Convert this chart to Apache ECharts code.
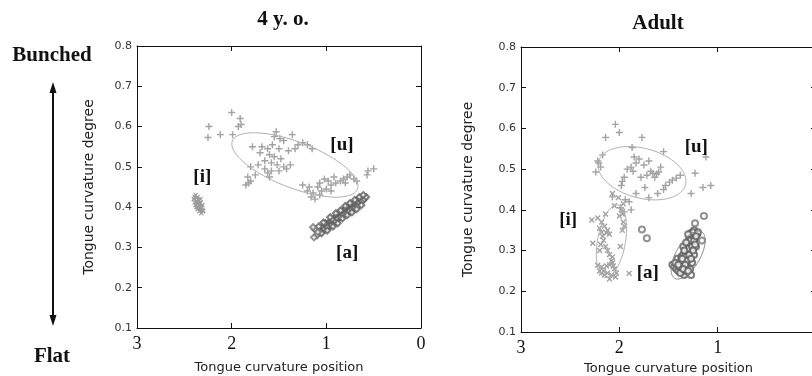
<!DOCTYPE html>
<html>
<head>
<meta charset="utf-8">
<script src="https://cdn.jsdelivr.net/npm/echarts@6/dist/echarts.min.js"></script>
<style>
  html, body { margin: 0; padding: 0; background: #fff; }
  #chart { width: 812px; height: 376px; }
</style>
</head>
<body>
<div id="chart"></div>
<script>
// axis ranges (x runs backwards: 3 on the left, 0 on the right)
const xMin = 0, xMax = 3, xStep = 1;
const yMin = 0.1, yMax = 0.8, yStep = 0.1;
const panelTitles = ['4 y. o.', 'Adult'];
const xName = 'Tongue curvature position';
const yName = 'Tongue curvature degree';

// ---- 4 y. o. ----
const uChild = [
  [2.00,0.635],[1.91,0.62],[1.93,0.60],[1.90,0.605],[2.24,0.60],[2.25,0.573],[2.12,0.58],[1.99,0.58],
  [1.53,0.587],[1.36,0.58],[1.49,0.57],[1.55,0.575],[1.45,0.565],[1.25,0.56],[1.30,0.555],[1.20,0.555],[1.15,0.545],
  [1.78,0.55],[1.68,0.55],[1.62,0.545],[1.57,0.555],[1.50,0.545],[1.40,0.54],[1.33,0.545],[1.60,0.53],[1.70,0.535],
  [1.55,0.525],[1.48,0.52],[1.65,0.515],[1.58,0.51],[1.52,0.505],[1.45,0.50],[1.38,0.505],[1.72,0.505],[1.80,0.50],
  [1.65,0.495],[1.58,0.49],[1.50,0.49],[1.62,0.485],[1.75,0.48],[1.42,0.495],[1.83,0.475],[1.80,0.465],[1.85,0.455],
  [1.82,0.46],[1.60,0.475],[1.25,0.455],[1.18,0.45],[1.07,0.46],[1.02,0.47],[0.98,0.465],[0.95,0.455],[0.92,0.475],
  [0.90,0.46],[0.85,0.465],[0.82,0.47],[0.78,0.475],[0.75,0.48],[0.71,0.47],[0.68,0.465],[0.80,0.46],
  [0.56,0.49],[0.50,0.495],[0.57,0.48],[1.16,0.425],[1.12,0.42],[1.07,0.43],[1.09,0.45],[1.05,0.44],
  [1.14,0.435],[1.20,0.44],[0.95,0.44],[1.00,0.445]
];
const iChild = [
  [2.38,0.43],[2.36,0.425],[2.40,0.42],[2.35,0.418],[2.37,0.415],[2.33,0.41],[2.39,0.412],[2.36,0.408],
  [2.34,0.405],[2.37,0.40],[2.35,0.398],[2.32,0.40],[2.33,0.395],[2.31,0.392],[2.34,0.39],[2.36,0.395],
  [2.38,0.405],[2.32,0.385],[2.30,0.39],[2.35,0.41],[2.39,0.425],[2.33,0.42],[2.31,0.405]
];
const aChild = [
  [1.10,0.33],[1.12,0.345],[1.06,0.34],[1.04,0.35],[1.02,0.345],[1.00,0.355],[0.98,0.36],[0.97,0.352],
  [0.95,0.365],[0.93,0.36],[0.92,0.37],[0.90,0.375],[0.89,0.368],[0.87,0.378],[0.86,0.385],[0.84,0.38],
  [0.83,0.39],[0.81,0.385],[0.80,0.395],[0.78,0.39],[0.77,0.40],[0.75,0.395],[0.74,0.405],[0.72,0.40],
  [0.71,0.41],[0.69,0.405],[0.68,0.415],[0.66,0.41],[0.64,0.418],[0.62,0.415],[0.60,0.42],[0.58,0.425],
  [0.95,0.355],[0.91,0.365],[0.88,0.372],[0.85,0.375],[0.82,0.382],[0.79,0.385],[0.76,0.39],[0.73,0.395],
  [0.70,0.398],[0.67,0.402],[1.01,0.36],[0.94,0.37],[0.99,0.35],
  [1.03,0.362],[0.96,0.375],[0.90,0.385],[0.85,0.392],[0.80,0.403],[0.75,0.41],[0.70,0.418],[0.65,0.425],
  [1.05,0.335],[0.99,0.342],[0.93,0.352],[0.88,0.36],[0.83,0.372],[0.78,0.38],[0.73,0.387],[0.68,0.395],[0.63,0.405],
  [1.08,0.352],[0.61,0.43]
];
const aChildOpen = [[1.13,0.325],[1.14,0.35],[1.09,0.338]];
// ellipse: centre x, centre y, major half-axis (dx, dy), minor half-axis (dx, dy)
const uChildEllipse = [1.332, 0.5047, -0.6607, -0.0596, 0.0871, -0.0533];

// ---- Adult ----
const uAdult = [
  [2.04,0.61],[2.00,0.59],[2.14,0.578],[1.77,0.578],[1.87,0.553],[1.55,0.543],[2.17,0.535],[2.21,0.515],
  [2.24,0.493],[2.19,0.505],[2.22,0.52],[1.85,0.53],[1.80,0.525],[1.83,0.515],[1.88,0.505],[1.92,0.50],
  [1.86,0.495],[1.70,0.52],[1.75,0.51],[1.66,0.49],[1.72,0.485],[1.62,0.488],[1.64,0.48],[1.68,0.495],
  [1.58,0.505],[1.60,0.493],[1.78,0.48],[1.95,0.48],[1.97,0.47],[1.46,0.473],[1.49,0.468],[1.42,0.478],
  [1.53,0.46],[1.38,0.485],[1.23,0.49],[1.12,0.53],[1.07,0.46],[1.15,0.455],[1.27,0.44],[1.61,0.44],
  [1.55,0.45],[1.83,0.44],[1.98,0.46],[2.07,0.432],[1.94,0.425],[1.90,0.42],[1.95,0.395],[1.99,0.405],
  [1.88,0.40],[1.74,0.455],[1.70,0.43]
];
const iAdult = [
  [2.28,0.375],[2.22,0.38],[2.18,0.37],[2.15,0.36],[2.20,0.355],[2.13,0.343],[2.17,0.335],[2.12,0.35],
  [2.10,0.34],[2.18,0.345],[2.27,0.318],[2.19,0.315],[2.14,0.31],[2.12,0.30],[2.16,0.325],[2.10,0.29],
  [2.07,0.284],[2.08,0.275],[2.22,0.264],[2.18,0.26],[2.16,0.25],[2.13,0.262],[2.10,0.265],[2.06,0.262],
  [2.03,0.245],[2.05,0.255],[2.08,0.24],[2.15,0.24],[2.10,0.23],[2.12,0.245],[2.18,0.245],[2.20,0.25],
  [2.04,0.235],[2.07,0.27],[1.90,0.244],[1.97,0.39],[1.96,0.37],[1.95,0.36],[1.98,0.40],[1.99,0.31],
  [2.00,0.385],[1.97,0.35],[2.07,0.44],[2.01,0.43],[1.96,0.415],[2.05,0.41],[2.20,0.30],[2.14,0.39]
];
const aAdult = [
  [1.46,0.265],[1.44,0.26],[1.42,0.255],[1.40,0.25],[1.38,0.27],[1.41,0.28],[1.37,0.285],[1.35,0.29],
  [1.33,0.30],[1.32,0.31],[1.30,0.32],[1.29,0.33],[1.27,0.343],[1.24,0.35],[1.26,0.335],[1.28,0.315],
  [1.31,0.295],[1.34,0.275],[1.36,0.265],[1.39,0.26],[1.34,0.24],[1.36,0.25],[1.31,0.26],[1.29,0.28],
  [1.27,0.30],[1.25,0.32],[1.23,0.33],[1.21,0.34],[1.25,0.345],[1.30,0.305],[1.33,0.285],[1.37,0.275],
  [1.43,0.27],[1.28,0.255],[1.32,0.25],[1.26,0.27],[1.24,0.29],[1.22,0.31],[1.20,0.345],[1.27,0.24],
  [1.38,0.245],[1.30,0.34],[1.35,0.31],
  [1.29,0.29],[1.31,0.275],[1.33,0.265],[1.28,0.325],[1.26,0.31],[1.24,0.325],[1.22,0.335],[1.27,0.28],
  [1.35,0.255],[1.30,0.25],[1.25,0.30],[1.23,0.315],[1.32,0.32],[1.34,0.30],[1.36,0.28],[1.40,0.265]
];
const aAdultOpen = [[1.77,0.352],[1.72,0.33],[1.23,0.367],[1.14,0.385],[1.16,0.325]];
const uAdultEllipse = [1.77, 0.490, -0.4425, -0.0285, 0.066, -0.059];
const iAdultEllipse = [2.08, 0.323, -0.065, 0.089, -0.140, -0.006];
const aAdultEllipse = [1.30, 0.289, -0.137, 0.057, -0.106, -0.015];

// vowel tags: x, y, text
const tagsChild = [[2.31, 0.475, '[i]'], [0.835, 0.554, '[u]'], [0.78, 0.286, '[a]']];
const tagsAdult = [[2.52, 0.374, '[i]'], [1.217, 0.554, '[u]'], [1.71, 0.244, '[a]']];

const plusPath = 'path://M4,0H6V4H10V6H6V10H4V6H0V4H4Z';
const lightGrey = '#a3a3a3';
const darkGrey = '#5e5e5e';

function ellipseItem(params, api) {
  const cx = api.value(0), cy = api.value(1);
  const ux = api.value(2), uy = api.value(3), vx = api.value(4), vy = api.value(5);
  const pts = [];
  for (let k = 0; k <= 90; k++) {
    const t = Math.PI * 2 * k / 90;
    pts.push(api.coord([cx + ux * Math.cos(t) + vx * Math.sin(t), cy + uy * Math.cos(t) + vy * Math.sin(t)]));
  }
  return {
    type: 'polyline',
    shape: { points: pts },
    style: { fill: null, stroke: api.visual('color'), lineWidth: 1 }
  };
}

function ellipseSeries(idx, e, color) {
  return {
    type: 'custom', xAxisIndex: idx * 2, yAxisIndex: idx * 2,
    renderItem: ellipseItem, data: [e], itemStyle: { color: color },
    encode: { x: 0, y: 1 }, silent: true, z: 3
  };
}

function scatter(idx, data, sym, size, color, rot, extra) {
  return Object.assign({
    type: 'scatter', xAxisIndex: idx * 2, yAxisIndex: idx * 2,
    data: data, symbol: sym, symbolSize: size, symbolRotate: rot || 0,
    itemStyle: { color: color, opacity: 1 }, silent: true, z: 2
  }, extra || {});
}

function tagSeries(idx, data) {
  return {
    type: 'custom', xAxisIndex: idx * 2, yAxisIndex: idx * 2,
    data: data, encode: { x: 0, y: 1 }, silent: true, z: 5,
    renderItem: (params, api) => {
      const p = api.coord([api.value(0), api.value(1)]);
      return {
        type: 'text', x: p[0], y: p[1],
        style: {
          text: data[params.dataIndex][2], fill: '#111',
          font: 'bold 19px "Liberation Serif"', align: 'center', verticalAlign: 'middle'
        }
      };
    }
  };
}

const frame = { show: true, onZero: false, lineStyle: { color: '#111', width: 1 } };
const tick = { show: true, inside: true, length: 5, lineStyle: { color: '#111' } };

function xAxes(idx) {
  return [
    {
      gridIndex: idx, type: 'value', min: xMin, max: xMax, interval: xStep, inverse: true,
      axisLine: frame, axisTick: tick, splitLine: { show: false },
      axisLabel: { fontFamily: 'Liberation Serif', fontSize: 18, color: '#111', margin: 7 },
      name: xName, nameLocation: 'middle', nameGap: idx === 0 ? 33 : 30,
      nameTextStyle: { fontFamily: 'DejaVu Sans', fontSize: 13, color: '#222' }
    },
    {
      gridIndex: idx, type: 'value', position: 'top', min: xMin, max: xMax, interval: xStep, inverse: true,
      axisLine: frame, axisTick: tick, axisLabel: { show: false }, splitLine: { show: false }
    }
  ];
}

function yAxes(idx) {
  return [
    {
      gridIndex: idx, type: 'value', min: yMin, max: yMax, interval: yStep,
      axisLine: frame, axisTick: tick, splitLine: { show: false },
      axisLabel: { fontFamily: 'DejaVu Sans', fontSize: 11, color: '#333', margin: 5,
        formatter: v => v.toFixed(1) },
      name: yName, nameLocation: 'middle', nameGap: idx === 0 ? 41 : 46,
      nameTextStyle: { fontFamily: 'DejaVu Sans', fontSize: 14, color: '#222' }
    },
    {
      gridIndex: idx, type: 'value', position: 'right', min: yMin, max: yMax, interval: yStep,
      axisLine: frame, axisTick: tick, axisLabel: { show: false }, splitLine: { show: false }
    }
  ];
}

const chart = echarts.init(document.getElementById('chart'));
const option = {
  animation: false,
  backgroundColor: '#fff',
  grid: [
    { left: 137, top: 46, width: 284, height: 282, outerBoundsMode: 'none', containLabel: false },
    { left: 521, top: 47, width: 295, height: 285, outerBoundsMode: 'none', containLabel: false }
  ],
  xAxis: [...xAxes(0), ...xAxes(1)],
  yAxis: [...yAxes(0), ...yAxes(1)],
  graphic: [
    { type: 'text', x: 283, y: 20, style: { text: panelTitles[0], font: 'bold 21px "Liberation Serif"', fill: '#111', textAlign: 'center', textVerticalAlign: 'middle' } },
    { type: 'text', x: 658, y: 24, style: { text: panelTitles[1], font: 'bold 21px "Liberation Serif"', fill: '#111', textAlign: 'center', textVerticalAlign: 'middle' } },
    { type: 'text', x: 52, y: 56, style: { text: 'Bunched', font: 'bold 21px "Liberation Serif"', fill: '#111', textAlign: 'center', textVerticalAlign: 'middle' } },
    { type: 'text', x: 52, y: 357, style: { text: 'Flat', font: 'bold 21px "Liberation Serif"', fill: '#111', textAlign: 'center', textVerticalAlign: 'middle' } },
    { type: 'line', shape: { x1: 53, y1: 90, x2: 53, y2: 318 }, style: { stroke: '#111', lineWidth: 2 } },
    { type: 'polygon', shape: { points: [[53, 82], [49.5, 93], [56.5, 93]] }, style: { fill: '#111' } },
    { type: 'polygon', shape: { points: [[53, 326], [49.5, 315], [56.5, 315]] }, style: { fill: '#111' } }
  ],
  series: [
    scatter(0, uChild, plusPath, 7, lightGrey),
    scatter(0, iChild, plusPath, 6, '#9a9a9a', 45),
    scatter(0, aChild, 'emptyDiamond', 6, darkGrey, 0, { itemStyle: { color: darkGrey, borderWidth: 1.3 } }),
    scatter(0, aChildOpen, 'emptyDiamond', 6, '#777', 0, { itemStyle: { color: '#777', borderWidth: 1 } }),
    ellipseSeries(0, uChildEllipse, '#b0b0b0'),
    tagSeries(0, tagsChild),

    scatter(1, uAdult, plusPath, 7, lightGrey),
    scatter(1, iAdult, plusPath, 7, lightGrey, 45),
    scatter(1, aAdult, 'emptyCircle', 6, darkGrey, 0, { itemStyle: { color: darkGrey, borderWidth: 1.6 } }),
    scatter(1, aAdultOpen, 'emptyCircle', 6, '#777', 0, { itemStyle: { color: '#777', borderWidth: 1 } }),
    ellipseSeries(1, uAdultEllipse, '#b0b0b0'),
    ellipseSeries(1, iAdultEllipse, '#b0b0b0'),
    ellipseSeries(1, aAdultEllipse, '#888'),
    tagSeries(1, tagsAdult)
  ]
};
chart.setOption(option);
</script>
</body>
</html>
